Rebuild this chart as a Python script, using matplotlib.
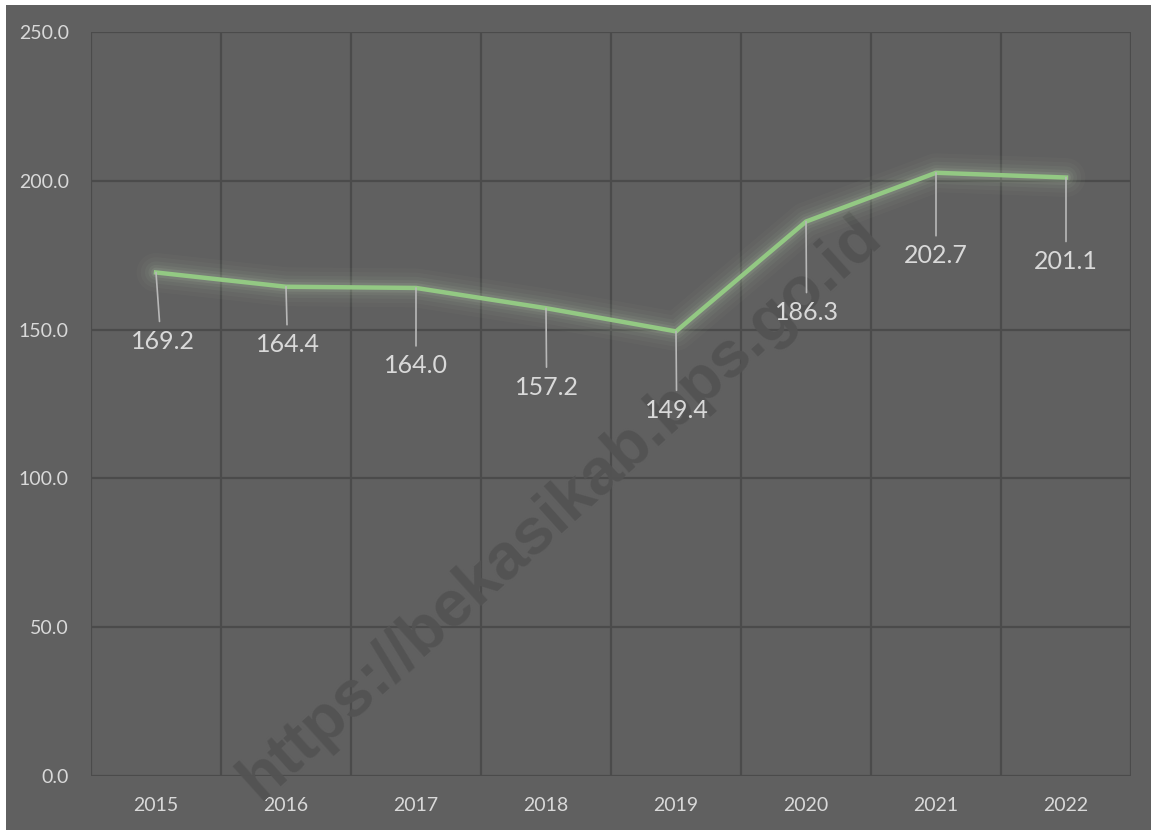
import matplotlib
matplotlib.use("Agg")
import matplotlib.pyplot as plt
from matplotlib.patches import Rectangle
import numpy as np

plt.rcParams["font.family"] = ["Lato", "DejaVu Sans"]

years = ["2015", "2016", "2017", "2018", "2019", "2020", "2021", "2022"]
values = [169.2, 164.4, 164.0, 157.2, 149.4, 186.3, 202.7, 201.1]
y_ticks = [0, 50, 100, 150, 200, 250]

# label offsets below each point, in pixels (dx, dy)
label_offsets = [(7, -69), (2, -58), (0, -78), (1, -79), (1, -79), (1, -91), (0, -83), (0, -84)]

_BG = "#606060"
_GRID = "#4b4b4b"
_LINE = "#93c983"
_GLOW = "#b9cfb0"
_TEXT = "#d9d9d9"
_WATERMARK = "#535353"

fig = plt.figure(figsize=(11.51, 8.30), dpi=100, facecolor=_BG)
# thin white strip along top and left edges
fig.patches.append(Rectangle((0, 1 - 5 / 830), 1, 5 / 830, transform=fig.transFigure,
                             facecolor="white", edgecolor="none", zorder=-10))
fig.patches.append(Rectangle((0, 0), 6 / 1151, 1, transform=fig.transFigure,
                             facecolor="white", edgecolor="none", zorder=-10))

ax = fig.add_axes([91 / 1151, 1 - 776 / 830, 1040 / 1151, 744 / 830])
ax.set_facecolor(_BG)
x = np.arange(len(years)) + 0.5
ax.set_xlim(0, len(years))
ax.set_ylim(0, 250)

ax.set_yticks(y_ticks)
ax.set_yticklabels([f"{v:.1f}" for v in y_ticks])
ax.set_xticks(x)
ax.set_xticklabels(years)
ax.set_xticks(np.arange(len(years) + 1), minor=True)
ax.tick_params(axis="both", which="both", length=0, colors=_TEXT)
ax.tick_params(axis="y", labelsize=14, pad=16)
ax.tick_params(axis="x", labelsize=14, pad=15)
ax.grid(axis="y", which="major", color=_GRID, linewidth=1.6)
ax.grid(axis="x", which="minor", color=_GRID, linewidth=1.6)
ax.set_axisbelow(True)
for s in ax.spines.values():
    s.set_visible(False)

# watermark sits above the grid but under the data
ax.text(560 / 1151, 1 - 508 / 830, "https://bekasikab.bps.go.id", rotation=42,
        ha="center", va="center", fontsize=47, fontweight="bold",
        color=_WATERMARK, zorder=1.5, transform=fig.transFigure, clip_on=False,
        family=["Liberation Sans", "DejaVu Sans"])

# soft glow behind the line
for w, a in [(28, 0.035), (22, 0.045), (16, 0.06), (11, 0.08), (7, 0.12)]:
    ax.plot(x, values, color=_GLOW, linewidth=w, alpha=a, solid_capstyle="round",
            solid_joinstyle="round", zorder=2)
ax.plot(x, values, color=_LINE, linewidth=3.2, solid_joinstyle="miter", zorder=3)

# data labels with leader lines
for xi, v, (dx, dy) in zip(x, values, label_offsets):
    ax.annotate(f"{v:.1f}", xy=(xi, v), xytext=(dx * 0.72, dy * 0.72),
                textcoords="offset points", ha="center", va="center",
                fontsize=18, color=_TEXT, zorder=4)
    ax.annotate("", xy=(xi, v), xytext=(dx * 0.72 * 0.5, (dy + 20) * 0.72),
                textcoords="offset points",
                arrowprops=dict(arrowstyle="-", color="#b8b8b8", lw=1.2,
                                shrinkA=0, shrinkB=0), zorder=4)

fig.savefig("out.png", dpi=100, facecolor=fig.get_facecolor())
